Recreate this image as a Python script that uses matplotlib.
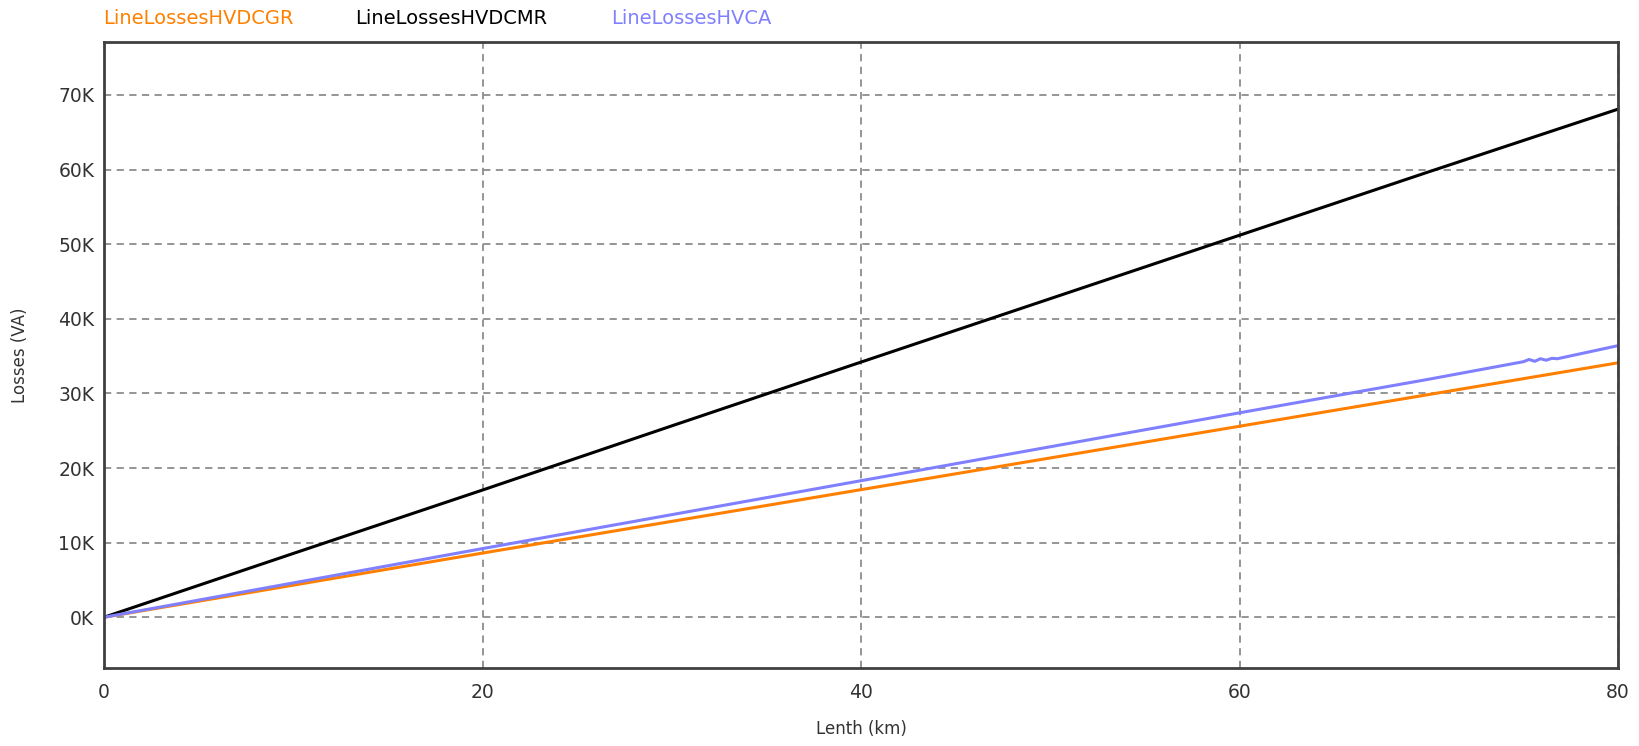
import matplotlib
matplotlib.use('Agg')
import matplotlib.pyplot as plt
from matplotlib.ticker import FuncFormatter

plt.rcParams['font.family'] = ['DejaVu Sans']

# values (x in km, losses in VA)
length_km = [0, 10, 20, 30, 40, 50, 60, 70, 80]
losses_gr = [0, 4300, 8600, 12850, 17100, 21350, 25600, 29850, 34100]
losses_mr = [0, 8550, 17050, 25650, 34200, 42700, 51200, 59700, 68100]

# HVCA has a small wobble around 75-77 km
length_ca = [0, 10, 20, 30, 40, 50, 60, 70, 75.0, 75.3, 75.6, 75.9, 76.2, 76.5, 76.8, 80]
losses_ca = [0, 4600, 9200, 13750, 18300, 22850, 27400, 31900,
             34250, 34550, 34300, 34650, 34450, 34700, 34650, 36400]

series_names = ['LineLossesHVDCGR', 'LineLossesHVDCMR', 'LineLossesHVCA']
series_colors = ['#ff8000', '#000000', '#8080ff']

fig = plt.figure(figsize=(16.39, 7.46), dpi=100)
ax = fig.add_axes([0.0635, 0.1046, 0.9237, 0.8391])

ax.plot(length_km, losses_gr, color=series_colors[0], lw=2.2)
ax.plot(length_km, losses_mr, color=series_colors[1], lw=2.2)
ax.plot(length_ca, losses_ca, color=series_colors[2], lw=2.2)

ax.set_xlim(0, 80)
ax.set_ylim(-6800, 77100)
ax.set_xticks([0, 20, 40, 60, 80])
ax.set_yticks(range(0, 70001, 10000))
ax.yaxis.set_major_formatter(FuncFormatter(lambda v, p: '%dK' % round(v / 1000)))

ax.grid(True, color='#8c8c8c', linestyle=(0, (4, 3)), linewidth=1.3)
ax.tick_params(length=0, labelsize=13.5, colors='#333333')
ax.tick_params(axis='x', pad=11)
ax.tick_params(axis='y', pad=7)
for s in ax.spines.values():
    s.set_color('#404040')
    s.set_linewidth(2)

ax.set_xlabel('Lenth (km)', fontsize=12, color='#333333', labelpad=13)
ax.set_ylabel('Losses (VA)', fontsize=12, color='#333333', labelpad=21)

# legend as coloured text across the top
legend_x = [103, 355, 611]
for name, col, x in zip(series_names, series_colors, legend_x):
    fig.text(x / 1639, 1 - 18 / 746, name, color=col, fontsize=14,
             ha='left', va='center')

fig.savefig('out.png', dpi=100)
